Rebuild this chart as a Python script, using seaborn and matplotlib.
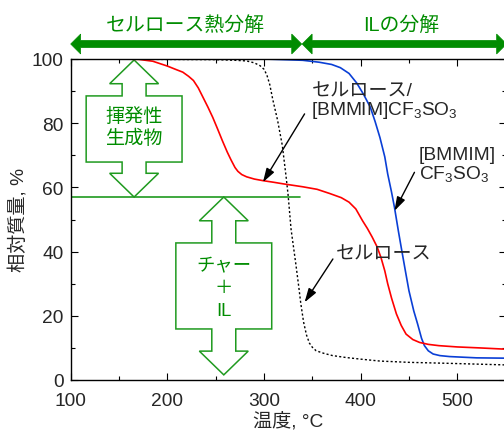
import numpy as np
import pandas as pd
import matplotlib
matplotlib.use("Agg")
import matplotlib.pyplot as plt
import matplotlib.transforms as mtransforms
from matplotlib.patches import Polygon
from matplotlib.ticker import MultipleLocator
import seaborn as sns

# TG curves: temperature (°C) vs. relative mass (%)
mix_temp = [100, 150, 170, 185, 200, 210, 216, 222, 227, 232, 237, 242, 247, 252, 257, 262, 266,
            270, 273, 277, 282, 290, 299, 310, 320, 340, 355, 368, 380, 388, 395, 402, 407, 412,
            417, 421, 425, 428, 432, 437, 442, 447, 454, 461, 470, 481, 500, 523, 550]
mix_mass = [100, 100, 99.9, 99.3, 97.8, 96.6, 95.9, 94.6, 93.3, 91, 88, 85, 81.8, 78.2, 74.5, 71,
            68.5, 66.2, 65, 64, 63.3, 62.6, 62.1, 61.6, 61.1, 60.2, 59.4, 58.1, 56.8, 55.4, 53.3,
            49.6, 47.2, 44.5, 41.5, 38.2, 34, 30, 25.5, 20.6, 17, 14.3, 12.6, 11.7, 11.1, 10.7,
            10.3, 10, 9.6]

il_temp = [100, 300, 340, 357, 370, 379, 388, 396, 403, 410, 415, 420, 425, 428, 432, 435, 439,
           442, 446, 450, 455, 459, 463, 466, 470, 475, 482, 492, 520, 550]
il_mass = [100, 100, 99.6, 99, 98.3, 97.3, 95.5, 92.5, 89, 85, 80.5, 75.5, 69.5, 64.2, 58.5, 53.8,
           46.5, 41.3, 34.5, 27.8, 21.5, 17.4, 13, 10.7, 9.1, 8.1, 7.6, 7.3, 6.9, 6.8]

cell_temp = [100, 250, 270, 282, 290, 296, 300, 303, 306, 309, 314, 319, 323, 325, 328, 333, 336,
             338, 341, 344, 347, 350, 354, 362, 371, 385, 400, 420, 450, 490, 550]
cell_mass = [100, 99.8, 99.6, 99.4, 98.8, 97.9, 96.8, 95, 92, 87.5, 81, 73, 63, 57.5, 47, 36, 29,
             24, 18, 14, 11.5, 10.2, 9.1, 8.3, 7.6, 7, 6.5, 5.9, 5.5, 5.2, 4.7]

char_level = 57  # residue level separating volatiles from char + IL

sns.set_style("ticks")
plt.rcParams["font.family"] = ["Liberation Sans", "Noto Sans CJK JP"]
plt.rcParams["mathtext.fontset"] = "custom"
plt.rcParams["mathtext.rm"] = "Liberation Sans"
plt.rcParams["mathtext.it"] = "Liberation Sans:italic"
plt.rcParams["mathtext.bf"] = "Liberation Sans:bold"

FS = 13.8
GREEN = "#008c00"
GREEN_L = "#1f9a1f"

fig = plt.figure(figsize=(5.04, 4.35), dpi=100)
ax = fig.add_axes([70.7 / 504, 1 - 381 / 435, (505.6 - 70.7) / 504, 321 / 435])

mix = pd.DataFrame({"temp": mix_temp, "mass": mix_mass})
il = pd.DataFrame({"temp": il_temp, "mass": il_mass})
cell = pd.DataFrame({"temp": cell_temp, "mass": cell_mass})

sns.lineplot(data=cell, x="temp", y="mass", ax=ax, color="black", lw=1.0,
             linestyle=(0, (1.5, 1.6)))
sns.lineplot(data=il, x="temp", y="mass", ax=ax, color="#0a3fd6", lw=1.2)
sns.lineplot(data=mix, x="temp", y="mass", ax=ax, color="#ff0000", lw=1.2)

ax.set_xlim(100, 550)
ax.set_ylim(0, 100)
ax.xaxis.set_major_locator(MultipleLocator(100))
ax.xaxis.set_minor_locator(MultipleLocator(50))
ax.yaxis.set_major_locator(MultipleLocator(20))
ax.yaxis.set_minor_locator(MultipleLocator(10))
ax.tick_params(which="both", direction="in", top=True, right=True, width=0.8, color="black")
ax.tick_params(which="major", length=5)
ax.tick_params(which="minor", length=3)
ax.tick_params(axis="x", which="major", labelsize=FS, pad=9)
ax.tick_params(axis="y", which="major", labelsize=FS, pad=5)
for s in ax.spines.values():
    s.set_linewidth(1.0)
    s.set_color("black")

ax.set_xlabel("温度, °C", fontsize=FS, labelpad=1)
ax.set_ylabel("相対質量, %", fontsize=FS, labelpad=3)

# horizontal line at the char level
ax.plot([100, 337.6], [char_level, char_level], color=GREEN_L, lw=1.2)


def double_block_arrow(xc, y_top, y_bot, box_top, box_bot,
                       head_half=25.3, shaft_half=12.4, box_half=49.6, head_len=7.4):
    right = [(xc, y_top), (xc + head_half, y_top - head_len), (xc + shaft_half, y_top - head_len),
             (xc + shaft_half, box_top), (xc + box_half, box_top), (xc + box_half, box_bot),
             (xc + shaft_half, box_bot), (xc + shaft_half, y_bot + head_len),
             (xc + head_half, y_bot + head_len), (xc, y_bot)]
    left = [(2 * xc - x, y) for x, y in right[1:-1]][::-1]
    return Polygon(right + left, closed=True, fill=False, edgecolor=GREEN_L, lw=1.1)


ax.add_patch(double_block_arrow(165.6, 99.7, char_level, 88.5, 67.9))
ax.add_patch(double_block_arrow(258.4, char_level, 1.6, 42.7, 15.9))

ax.text(165.6, 78.8, "揮発性\n生成物", color=GREEN, fontsize=FS, ha="center", va="center",
        linespacing=1.25)
ax.text(258.4, 28.7, "チャー\n＋\nIL", color=GREEN, fontsize=13.2, ha="center", va="center",
        linespacing=1.4)

# curve labels with arrows
ax.text(349, 92.8, "セルロース/\n[BMMIM]CF$_3$SO$_3$", fontsize=FS, ha="left", va="top",
        linespacing=1.0)
ax.text(460, 72.8, "[BMMIM]\nCF$_3$SO$_3$", fontsize=FS, ha="left", va="top", linespacing=1.0,
        clip_on=False)
ax.text(374.8, 39.3, "セルロース", fontsize=FS, ha="left", va="center")

arrow_kw = dict(arrowstyle="-|>,head_length=0.7,head_width=0.22", color="black", lw=1.0,
                shrinkA=0, shrinkB=0, mutation_scale=12)
ax.annotate("", xy=(298.9, 61.6), xytext=(342, 82.9), arrowprops=arrow_kw)
ax.annotate("", xy=(435, 52.7), xytext=(455.7, 64.7), arrowprops=arrow_kw)
ax.annotate("", xy=(342, 24.2), xytext=(371.3, 37.7), arrowprops=arrow_kw)

# decomposition ranges above the plot
trans = mtransforms.blended_transform_factory(ax.transData, ax.transAxes)


def range_arrow(x0, x1, yc=1.0467, shaft=0.0112, head=0.031, hlen=10.3):
    pts = [(x0, yc), (x0 + hlen, yc + head), (x0 + hlen, yc + shaft), (x1 - hlen, yc + shaft),
           (x1 - hlen, yc + head), (x1, yc), (x1 - hlen, yc - head), (x1 - hlen, yc - shaft),
           (x0 + hlen, yc - shaft), (x0 + hlen, yc - head)]
    return Polygon(pts, closed=True, facecolor=GREEN, edgecolor=GREEN, lw=0.5,
                   transform=trans, clip_on=False)


ax.add_patch(range_arrow(100, 339))
ax.add_patch(range_arrow(339.5, 551))
ax.text(219, 1.109, "セルロース熱分解", color=GREEN, fontsize=14.3, ha="center", va="center",
        transform=trans, clip_on=False)
ax.text(442, 1.109, "ILの分解", color=GREEN, fontsize=14.3, ha="center", va="center",
        transform=trans, clip_on=False)

fig.savefig("out.png", dpi=100)
